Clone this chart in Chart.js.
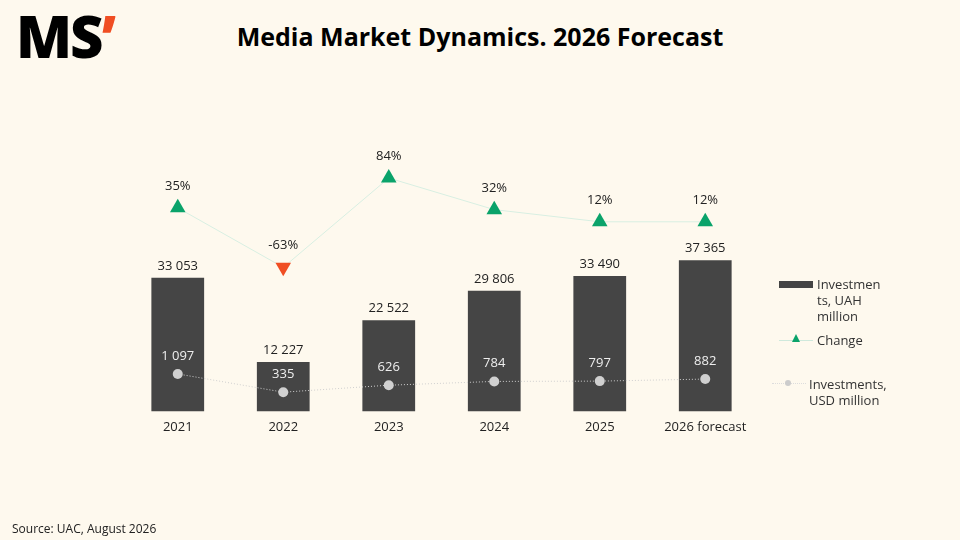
<!DOCTYPE html>
<html><head><meta charset="utf-8">
<script src="https://cdn.jsdelivr.net/npm/chart.js@4"></script>
<style>
body{margin:0;background:#fef9ee;width:960px;height:540px;overflow:hidden;font-family:"Open Sans",sans-serif;position:relative}
#logo{position:absolute;left:16px;top:0px;font:900 58px "Open Sans";letter-spacing:-2px;color:#000;line-height:72px}
#logo span{color:#f04e23}
#title{position:absolute;left:0;width:960px;top:19px;text-align:center;font:700 25px "Open Sans";color:#000}
#wrap{position:absolute;left:0;top:0;width:960px;height:540px}
#src{position:absolute;left:12px;top:520px;font-size:12px;color:#222}
.lg{position:absolute;font-size:13px;color:#333;line-height:16px}
</style></head><body>
<div id="logo">MS<span>’</span></div>
<div id="title">Media Market Dynamics. 2026 Forecast</div>
<div id="wrap"><canvas id="c" width="960" height="540"></canvas></div>
<div id="src">Source: UAC, August 2026</div>
<div class="lg" style="left:779px;top:281px;width:34px;height:7px;background:#444"></div>
<div class="lg" style="left:817px;top:276px">Investmen<br>ts, UAH<br>million</div>
<div class="lg" style="left:779px;top:340px;width:34px;height:1px;background:#cfe9dc"></div>
<div class="lg" style="left:792px;top:334px;width:0;height:0;border-left:4px solid transparent;border-right:4px solid transparent;border-bottom:8px solid #0aa36a"></div>
<div class="lg" style="left:817px;top:332px">Change</div>
<div class="lg" style="left:772px;top:383px;width:34px;height:1px;border-top:1px dotted #ddd"></div>
<div class="lg" style="left:785px;top:380px;width:6px;height:6px;border-radius:3px;background:#ccc"></div>
<div class="lg" style="left:809px;top:376px">Investments,<br>USD million</div>
<script>
const categories=["2021","2022","2023","2024","2025","2026 forecast"];
const uah=[33053,12227,22522,29806,33490,37365];
const change=[35,-63,84,32,12,12];
const usd=[1097,335,626,784,797,882];
const fmt=v=>String(v).replace(/\B(?=(\d{3})+(?!\d))/g,"\u00a0");
const labels={id:'labels',afterDatasetsDraw(ch){
 const c=ch.ctx;c.save();c.textAlign='center';c.font='13px "Open Sans"';
 ch.getDatasetMeta(0).data.forEach((e,i)=>{c.fillStyle='#222';c.fillText(fmt(uah[i]),e.x,e.y-8);});
 ch.getDatasetMeta(1).data.forEach((e,i)=>{c.fillStyle='#222';c.fillText(change[i]+'%',e.x,e.y-18);});
 ch.getDatasetMeta(2).data.forEach((e,i)=>{c.fillStyle='#eee';c.fillText(fmt(usd[i]),e.x,e.y-14);});
 c.restore();}};
new Chart(document.getElementById('c'),{
 data:{labels:categories,datasets:[
  {type:'bar',data:uah,backgroundColor:'#454545',yAxisID:'y',barPercentage:0.5,categoryPercentage:1,order:3},
  {type:'line',data:change,yAxisID:'y2',borderColor:'#d8efe2',borderWidth:1,order:1,
   pointStyle:'triangle',pointRadius:9,rotation:change.map(v=>v<0?180:0),
   pointBackgroundColor:change.map(v=>v<0?'#f04e23':'#0aa36a'),pointBorderWidth:0},
  {type:'line',data:usd,yAxisID:'y3',borderColor:'#cfcfcf',borderWidth:1,borderDash:[1,2],order:0,
   pointRadius:5,pointBackgroundColor:'#d0d0d0',pointBorderWidth:0}
 ]},
 options:{responsive:false,animation:false,
  layout:{padding:{left:125,right:202,top:65,bottom:105}},
  plugins:{legend:{display:false},tooltip:{enabled:false}},
  scales:{
   x:{grid:{display:false},border:{display:false},ticks:{color:'#222',font:{size:13,family:'Open Sans'},padding:0}},
   y:{display:false,min:0,max:85600},
   y2:{display:false,min:-300,max:270},
   y3:{display:false,min:-468,max:14000}
  }},
 plugins:[labels]});
</script></body></html>
